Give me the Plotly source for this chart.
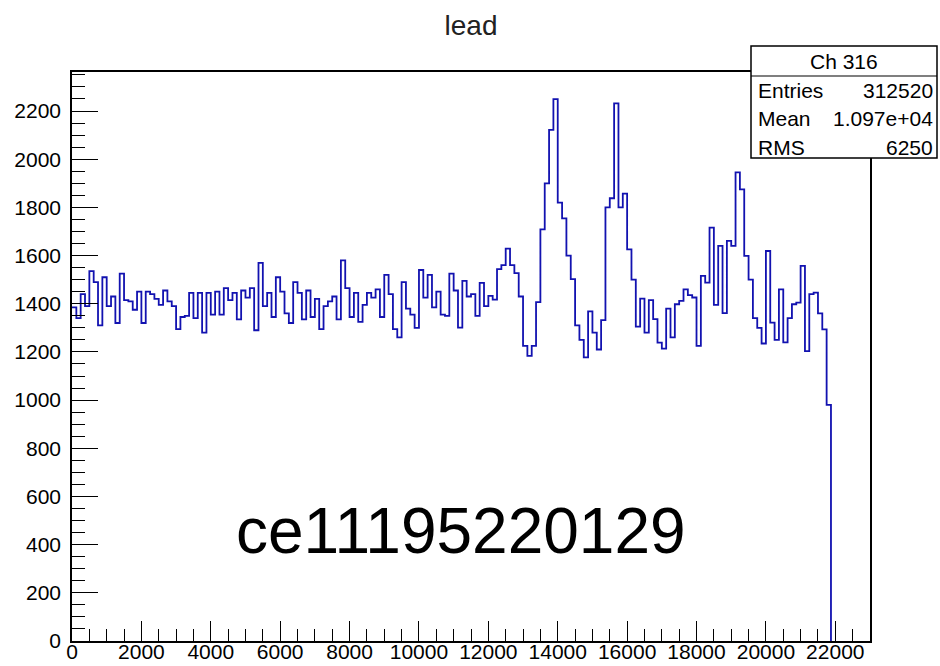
import plotly.graph_objects as go

# Histogram "Ch 316": 184 bins of width 125 from 0 to 23000
bin_width = 125
n_bins = 184
counts = [
    1385, 1340, 1440, 1390, 1535, 1490, 1310, 1510, 1390, 1430, 1320, 1525, 1415, 1410, 1375, 1450,
    1320, 1450, 1440, 1420, 1395, 1455, 1410, 1390, 1295, 1345, 1350, 1445, 1340, 1445, 1280, 1445,
    1355, 1450, 1355, 1465, 1415, 1445, 1335, 1455, 1425, 1465, 1290, 1570,
    1390, 1445, 1345, 1510, 1450, 1360, 1320, 1490, 1445, 1335, 1455, 1345, 1420, 1295, 1390, 1410,
    1430, 1335, 1580, 1465, 1345, 1445, 1325, 1395, 1445, 1425, 1460, 1345, 1520, 1440, 1295, 1260,
    1490, 1380, 1355, 1300, 1540, 1425, 1520, 1385, 1450, 1355, 1350, 1525,
    1455, 1301, 1495, 1430, 1440, 1350, 1487, 1390, 1433, 1417, 1544, 1560, 1629, 1560, 1527, 1430,
    1225, 1184, 1225, 1407, 1709, 1900, 2122, 2249, 1820, 1754, 1600, 1502, 1310, 1250, 1177, 1368,
    1280, 1210, 1332, 1800, 1838, 2232, 1800, 1857, 1626, 1500, 1305, 1421, 1280, 1415, 1336, 1239,
    1214, 1380, 1260, 1398, 1412, 1460, 1436, 1426, 1225, 1516, 1488, 1716, 1395, 1640, 1361, 1661,
    1640, 1945, 1875, 1599, 1500, 1340, 1300, 1235, 1619, 1322, 1250, 1460, 1240, 1340, 1398, 1405,
    1557, 1203, 1440, 1446, 1360, 1294, 980,
]
counts = counts + [0] * (n_bins - len(counts))

title_text = "lead"
stats_title = "Ch 316"
stats_labels = ["Entries", "Mean", "RMS"]
stats_values = ["312520", "1.097e+04", "6250"]
watermark = "ce11195220129"

edges = [i * bin_width for i in range(n_bins + 1)]
# step outline; trailing empty bins lie on the axis line itself
last = max(i for i, c in enumerate(counts) if c > 0)
xs = edges[:last + 1] + [edges[last + 1]]
ys = counts[:last + 1] + [0]

fig = go.Figure()
fig.add_trace(go.Scatter(
    x=xs, y=ys, mode="lines", line=dict(shape="hv", color="#1212b0", width=1.8),
    hoverinfo="skip", showlegend=False,
))

W, H = 940, 666
L, R, T, B = 72, 870, 72, 641

def px(xp):
    return (xp - L) / (R - L)

def py(yp):
    return (B - yp) / (B - T)

font = "Liberation Sans, Arial, sans-serif"

fig.update_layout(
    width=W, height=H,
    margin=dict(l=L, r=W - R, t=T, b=H - B, autoexpand=False),
    paper_bgcolor="white", plot_bgcolor="white",
    title=dict(text=title_text, x=0.5, xanchor="center", xref="paper",
               y=1 - 25 / H, yref="container", yanchor="middle",
               font=dict(family=font, size=28, color="#222"), automargin=False),
    font=dict(family=font, color="black"),
)
fig.update_xaxes(
    range=[0, 23000], showgrid=False, zeroline=False, automargin=False,
    showline=True, linecolor="black", linewidth=1.5, mirror=True,
    ticks="inside", ticklen=20, tickwidth=1.2, tickcolor="black",
    dtick=2000, tick0=0, tickformat="d", ticklabelstandoff=-9,
    minor=dict(ticks="inside", ticklen=12, dtick=500, tickcolor="black", tickwidth=1.2),
    tickfont=dict(family=font, size=21, color="black"),
)
fig.update_yaxes(
    range=[0, 2362], showgrid=False, zeroline=False, automargin=False,
    showline=True, linecolor="black", linewidth=1.5, mirror=True,
    ticks="inside", ticklen=26, tickwidth=1.2, tickcolor="black",
    dtick=200, tick0=0, tickformat="d", ticklabelstandoff=5,
    minor=dict(ticks="inside", ticklen=13, dtick=50, tickcolor="black", tickwidth=1.2),
    tickfont=dict(family=font, size=21, color="black"),
)

# stats box
bx0, bx1, by0, by1, bsep = 751, 937, 46, 158, 76
fig.add_shape(type="rect", xref="paper", yref="paper",
              x0=px(bx0), x1=px(bx1), y0=py(by1), y1=py(by0),
              line=dict(color="black", width=1.5), fillcolor="white", layer="above")
fig.add_shape(type="line", xref="paper", yref="paper",
              x0=px(bx0), x1=px(bx1), y0=py(bsep), y1=py(bsep),
              line=dict(color="black", width=1.2), layer="above")
fig.add_annotation(xref="paper", yref="paper", x=px((bx0 + bx1) / 2), y=py(61),
                   text=stats_title, showarrow=False, xanchor="center", yanchor="middle",
                   font=dict(family=font, size=21, color="black"))
rows_y = [90, 119, 147]
for lab, val, yy in zip(stats_labels, stats_values, rows_y):
    fig.add_annotation(xref="paper", yref="paper", x=px(756), y=py(yy), text=lab,
                       showarrow=False, xanchor="left", yanchor="middle",
                       font=dict(family=font, size=21, color="black"))
    fig.add_annotation(xref="paper", yref="paper", x=px(935), y=py(yy), text=val,
                       showarrow=False, xanchor="right", yanchor="middle",
                       font=dict(family=font, size=21, color="black"))

fig.add_annotation(xref="paper", yref="paper", x=px(461), y=py(531), text=watermark,
                   showarrow=False, xanchor="center", yanchor="middle",
                   font=dict(family=font, size=64, color="black"))

fig.write_html("out.html")
